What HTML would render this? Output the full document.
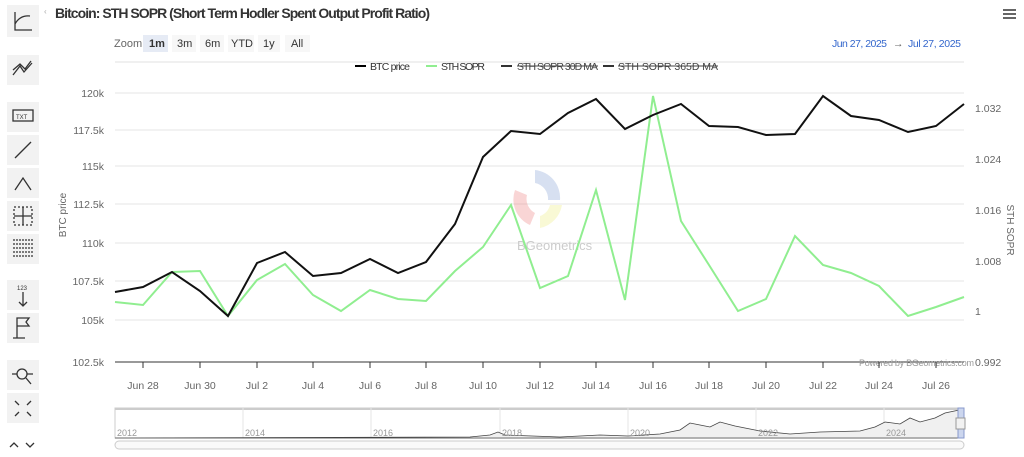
<!DOCTYPE html>
<html><head><meta charset="utf-8"><style>
body{margin:0;background:#fff;font-family:"Liberation Sans",sans-serif;}
</style></head><body>
<svg width="1024" height="452" xmlns="http://www.w3.org/2000/svg" font-family="Liberation Sans, sans-serif">
<rect width="1024" height="452" fill="#fff"/>
<g fill="#f2f2f2">
<rect x="7" y="5" width="32" height="32"/><rect x="7" y="55" width="32" height="30"/>
<rect x="7" y="102" width="32" height="30"/><rect x="7" y="135" width="32" height="30"/>
<rect x="7" y="168" width="32" height="30"/><rect x="7" y="201" width="32" height="30"/>
<rect x="7" y="234" width="32" height="30"/><rect x="7" y="280" width="32" height="30"/>
<rect x="7" y="313" width="32" height="30"/><rect x="7" y="360" width="32" height="30"/>
<rect x="7" y="393" width="32" height="30"/>
</g>
<g stroke="#333" fill="none" stroke-width="1.3">
<path d="M15 12 V30 H32 M15 24 Q20 15 30 16"/>
<path d="M13 75 L20 66 L24 72 L32 63 M13 70 L20 64 L25 69 L31 61"/>
<rect x="13" y="110" width="20" height="11"/>
<path d="M15 158 L31 142"/>
<path d="M15 190 L23 178 L31 190"/>
<rect x="14" y="207" width="18" height="18" stroke-dasharray="2 2"/><path d="M23 207V225M14 216H32"/>
<path d="M13 240H33M13 244H33M13 248H33M13 252H33M13 256H33" stroke-dasharray="2 1"/>
<path d="M23 292V306M19 302L23 306L27 302"/>
<path d="M17 338V318H29L26 322L29 326H17 M13 338H25"/>
<circle cx="22" cy="374" r="5"/><path d="M26 378L31 384M12 374H17M27 374H33"/>
<path d="M15 401L19 405M31 401L27 405M15 416L19 412M31 416L27 412"/>
<path d="M10 447L14 443L18 447M26 443L30 447L34 443"/>
</g>
<text x="16" y="119" font-size="6" fill="#333">TXT</text>
<text x="17" y="290" font-size="6" fill="#333">123</text>
<text x="55" y="18" font-size="14" font-weight="bold" fill="#333" textLength="375">Bitcoin: STH SOPR (Short Term Hodler Spent Output Profit Ratio)</text>
<text x="44" y="14" font-size="8" fill="#aaa">‹</text>
<g fill="#666"><rect x="1003" y="9" width="13" height="2"/><rect x="1003" y="13" width="13" height="2"/><rect x="1003" y="17" width="13" height="2"/></g>
<text x="114" y="47" font-size="11" fill="#666">Zoom</text>
<rect x="143" y="35" width="25" height="17" fill="#e6ebf5"/><text x="149" y="47" font-size="11" font-weight="bold" fill="#333">1m</text>
<rect x="172" y="35" width="24" height="17" fill="#f7f7f7"/><text x="177" y="47" font-size="11" fill="#333">3m</text>
<rect x="200" y="35" width="24" height="17" fill="#f7f7f7"/><text x="205" y="47" font-size="11" fill="#333">6m</text>
<rect x="228" y="35" width="26" height="17" fill="#f7f7f7"/><text x="231" y="47" font-size="11" fill="#333">YTD</text>
<rect x="258" y="35" width="22" height="17" fill="#f7f7f7"/><text x="263" y="47" font-size="11" fill="#333">1y</text>
<rect x="285" y="35" width="25" height="17" fill="#f7f7f7"/><text x="291" y="47" font-size="11" fill="#333">All</text>
<text x="832" y="47" font-size="10.5" fill="#3366cc" textLength="55">Jun 27, 2025</text><text x="893" y="47" font-size="10.5" fill="#666">→</text><text x="908" y="47" font-size="10.5" fill="#3366cc" textLength="53">Jul 27, 2025</text>
<line x1="115" y1="62" x2="964" y2="62" stroke="#e0e0e0"/>
<g font-size="10.5" fill="#333">
<line x1="355" y1="66" x2="366" y2="66" stroke="#000" stroke-width="2"/><text x="370" y="70" textLength="40">BTC price</text>
<line x1="426" y1="66" x2="437" y2="66" stroke="#90ee90" stroke-width="2"/><text x="441" y="70" textLength="44">STH SOPR</text>
<line x1="501" y1="66" x2="512" y2="66" stroke="#333" stroke-width="2"/><text x="517" y="70" fill="#444" textLength="81">STH SOPR 30D MA</text><line x1="517" y1="66" x2="598" y2="66" stroke="#444"/>
<line x1="603" y1="66" x2="614" y2="66" stroke="#333" stroke-width="2"/><text x="618" y="70" fill="#444" textLength="100">STH SOPR 365D MA</text><line x1="618" y1="66" x2="718" y2="66" stroke="#444"/>
</g>
<g stroke="#e6e6e6">
<line x1="115" y1="93" x2="964" y2="93"/><line x1="115" y1="130" x2="964" y2="130"/><line x1="115" y1="166" x2="964" y2="166"/>
<line x1="115" y1="204" x2="964" y2="204"/><line x1="115" y1="243" x2="964" y2="243"/><line x1="115" y1="281" x2="964" y2="281"/>
<line x1="115" y1="320" x2="964" y2="320"/>
</g>
<line x1="115" y1="362" x2="964" y2="362" stroke="#333"/>
<g font-size="10.5" fill="#666" text-anchor="end">
<text x="104" y="97">120k</text><text x="104" y="134">117.5k</text><text x="104" y="170">115k</text><text x="104" y="208">112.5k</text>
<text x="104" y="247">110k</text><text x="104" y="285">107.5k</text><text x="104" y="324">105k</text><text x="104" y="366">102.5k</text>
</g>
<g font-size="10.5" fill="#666">
<text x="975" y="112">1.032</text><text x="975" y="163">1.024</text><text x="975" y="214">1.016</text><text x="975" y="265">1.008</text>
<text x="975" y="315">1</text><text x="975" y="366">0.992</text>
</g>
<text x="859" y="366" font-size="9" fill="#999" textLength="115">Powered by BGeometrics.com</text>
<text transform="translate(66,215) rotate(-90)" font-size="10" fill="#666" text-anchor="middle">BTC price</text>
<text transform="translate(1007,230) rotate(90)" font-size="10" fill="#666" text-anchor="middle">STH SOPR</text>
<g opacity="0.35"><path d="M535 170 A28 28 0 0 1 560 200 L548 200 A16 16 0 0 0 535 183Z" fill="#8fa8d8"/>
<path d="M515 190 A28 28 0 0 0 530 225 L535 213 A16 16 0 0 1 527 195Z" fill="#e88"/>
<path d="M540 228 A28 28 0 0 0 562 205 L550 205 A16 16 0 0 1 540 216Z" fill="#ee8"/></g>
<text x="517" y="250" font-size="13" fill="#ccc">BGeometrics</text>
<g stroke="#333">
<line x1="143" y1="362" x2="143" y2="368"/><line x1="200" y1="362" x2="200" y2="368"/><line x1="257" y1="362" x2="257" y2="368"/>
<line x1="313" y1="362" x2="313" y2="368"/><line x1="370" y1="362" x2="370" y2="368"/><line x1="426" y1="362" x2="426" y2="368"/>
<line x1="483" y1="362" x2="483" y2="368"/><line x1="540" y1="362" x2="540" y2="368"/><line x1="596" y1="362" x2="596" y2="368"/>
<line x1="653" y1="362" x2="653" y2="368"/><line x1="709" y1="362" x2="709" y2="368"/><line x1="766" y1="362" x2="766" y2="368"/>
<line x1="823" y1="362" x2="823" y2="368"/><line x1="879" y1="362" x2="879" y2="368"/><line x1="936" y1="362" x2="936" y2="368"/>
</g>
<g font-size="10.5" fill="#666" text-anchor="middle">
<text x="143" y="389">Jun 28</text><text x="200" y="389">Jun 30</text><text x="257" y="389">Jul 2</text><text x="313" y="389">Jul 4</text>
<text x="370" y="389">Jul 6</text><text x="426" y="389">Jul 8</text><text x="483" y="389">Jul 10</text><text x="540" y="389">Jul 12</text>
<text x="596" y="389">Jul 14</text><text x="653" y="389">Jul 16</text><text x="709" y="389">Jul 18</text><text x="766" y="389">Jul 20</text>
<text x="823" y="389">Jul 22</text><text x="879" y="389">Jul 24</text><text x="936" y="389">Jul 26</text>
</g>
<polyline fill="none" stroke="#90ee90" stroke-width="2" points="115,302 143,305 172,272 200,271 228,316 257,280 285,264 313,295 341,311 370,290 398,299 426,301 455,271 483,247 511,205 540,288 568,276 596,190 625,300 653,96 681,221 709,265 738,311 766,299 795,236 823,265 851,273 879,286 908,316 936,307 964,297"/>
<polyline fill="none" stroke="#111" stroke-width="2" points="115,292 143,287 172,272 200,291 228,316 257,263 285,252 313,276 341,273 370,259 398,273 426,262 455,224 483,157 511,131 540,134 568,113 596,99 625,129 653,115 681,104 709,126 738,127 766,135 795,134 823,96 851,116 879,120 908,132 936,126 964,104"/>
<rect x="115" y="408" width="849" height="30" fill="#fff" stroke="#ccc"/>
<rect x="115" y="408" width="849" height="2" fill="#ccc"/>
<g stroke="#e6e6e6"><line x1="243" y1="408" x2="243" y2="438"/><line x1="371" y1="408" x2="371" y2="438"/><line x1="500" y1="408" x2="500" y2="438"/><line x1="628" y1="408" x2="628" y2="438"/><line x1="756" y1="408" x2="756" y2="438"/><line x1="884" y1="408" x2="884" y2="438"/></g>
<path d="M115 438 L470 437 L490 435 L498 432 L505 435 L560 437 L600 435 L628 436 L660 434 L680 430 L690 423 L700 425 L710 427 L720 422 L735 426 L745 428 L760 431 L790 434 L820 432 L860 431 L875 427 L885 422 L900 424 L910 418 L920 422 L935 418 L945 413 L964 409 L964 438Z" fill="#f0f0f0" stroke="#444" stroke-width="0.8"/>
<g font-size="9" fill="#999"><text x="117" y="436">2012</text><text x="245" y="436">2014</text><text x="373" y="436">2016</text><text x="502" y="436">2018</text><text x="630" y="436">2020</text><text x="758" y="436">2022</text><text x="886" y="436">2024</text></g>
<rect x="958" y="408" width="6" height="30" fill="#ccd6ee" stroke="#8899cc"/>
<rect x="956" y="418" width="9" height="11" fill="#f2f2f2" stroke="#999"/>
<rect x="115" y="441" width="849" height="8" rx="4" fill="#fafafa" stroke="#ccc"/>
</svg>
</body></html>
